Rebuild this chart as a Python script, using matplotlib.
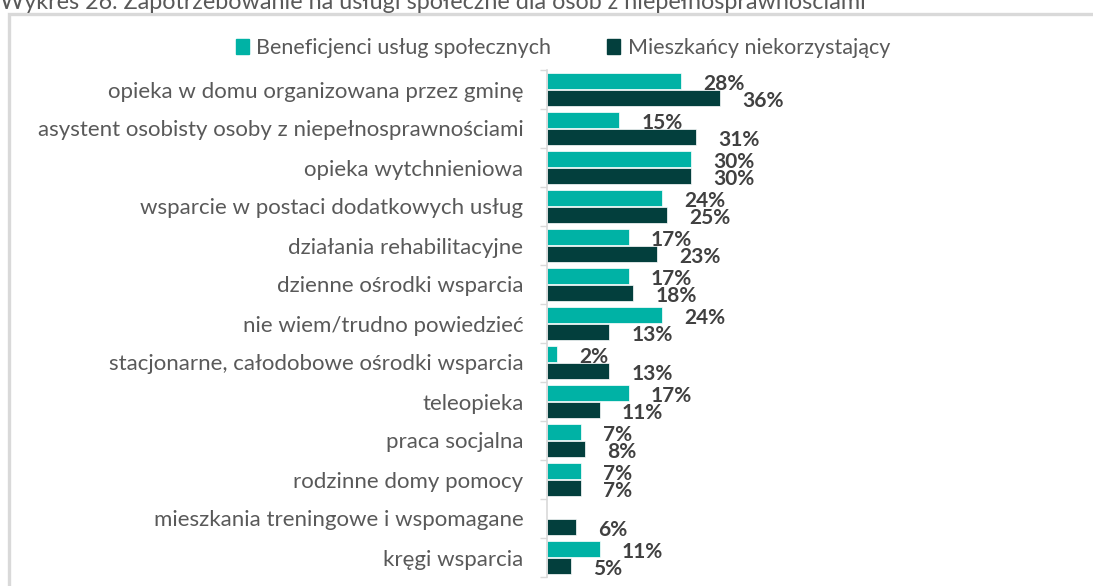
import matplotlib
matplotlib.use("Agg")
import matplotlib.pyplot as plt
from matplotlib.patches import Rectangle
import numpy as np

plt.rcParams['font.family'] = ['Lato', 'DejaVu Sans']

# data
categories = [
    "opieka w domu organizowana przez gminę",
    "asystent osobisty osoby z niepełnosprawnościami",
    "opieka wytchnieniowa",
    "wsparcie w postaci dodatkowych usług",
    "działania rehabilitacyjne",
    "dzienne ośrodki wsparcia",
    "nie wiem/trudno powiedzieć",
    "stacjonarne, całodobowe ośrodki wsparcia",
    "teleopieka",
    "praca socjalna",
    "rodzinne domy pomocy",
    "mieszkania treningowe i wspomagane",
    "kręgi wsparcia",
]
beneficjenci = [28, 15, 30, 24, 17, 17, 24, 2, 17, 7, 7, None, 11]
mieszkancy = [36, 31, 30, 25, 23, 18, 13, 13, 11, 8, 7, 6, 5]
series_names = ["Beneficjenci usług społecznych", "Mieszkańcy niekorzystający"]

teal = '#00b2a5'
dark = '#033f3d'
label_col = '#404040'

fig = plt.figure(figsize=(10.93, 5.86), dpi=100)

# outer frame (cropped in the source)
fig.patches.append(Rectangle((9 / 1093, -0.05), 1.2, 1.05 - 14 / 586,
                             transform=fig.transFigure, fill=False,
                             edgecolor='#d9d9d9', linewidth=2.4))
fig.text(0.0, 1.0 - 9 / 586,
         "Wykres 26. Zapotrzebowanie na usługi społeczne dla osób z niepełnosprawnościami",
         ha='left', va='baseline', fontsize=16.8, color='#595959')

ax = fig.add_axes([547 / 1093, 1 - 577 / 586, 0.99 - 547 / 1093, (577 - 70) / 586])

y = np.arange(len(categories))
h = 0.41
off = 0.225
ben_vals = [np.nan if v is None else v for v in beneficjenci]
ax.barh(y - off, ben_vals, height=h, color=teal, edgecolor='white', linewidth=0.5)
ax.barh(y + off, mieszkancy, height=h, color=dark, edgecolor='white', linewidth=0.5)

for i, (b, m) in enumerate(zip(beneficjenci, mieszkancy)):
    if b is not None:
        ax.annotate(f"{b}%", (b, i - off), xytext=(16, -2), textcoords='offset points',
                    ha='left', va='center', fontsize=15, fontweight='bold', color=label_col)
    ax.annotate(f"{m}%", (m, i + off), xytext=(16, -2), textcoords='offset points',
                ha='left', va='center', fontsize=15, fontweight='bold', color=label_col)

ax.set_ylim(len(categories) - 0.5, -0.5)
ax.set_xlim(0, (0.99 * 1093 - 547) / 4.8)
ax.set_yticks(y)
ax.set_yticklabels(categories, fontsize=16, color='#595959')
ax.tick_params(axis='y', which='major', length=0, pad=17)
ax.set_yticks(np.arange(-0.5, len(categories)), minor=True)
ax.tick_params(axis='y', which='minor', length=5, color='#d9d9d9', width=1)
ax.set_xticks([])
for s in ['top', 'right', 'bottom']:
    ax.spines[s].set_visible(False)
ax.spines['left'].set_color('#d9d9d9')
ax.spines['left'].set_linewidth(1.2)

handles = [Rectangle((0, 0), 1, 1, color=teal), Rectangle((0, 0), 1, 1, color=dark)]
fig.legend(handles, series_names, loc='center', bbox_to_anchor=(563 / 1093, 1 - 48 / 586),
           ncol=2, frameon=False, fontsize=15.5, handlelength=0.6, handleheight=0.7,
           handletextpad=0.35, columnspacing=2.6, labelcolor='#595959')

fig.savefig("out.png", dpi=100)
